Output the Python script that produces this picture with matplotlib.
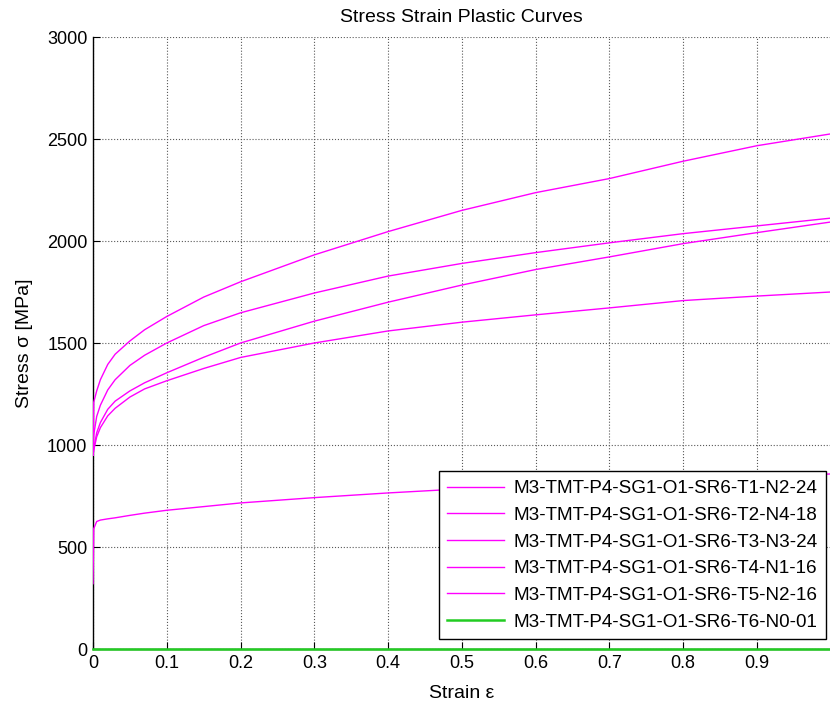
import matplotlib
matplotlib.use("Agg")
import matplotlib.pyplot as plt

plt.rcParams['font.family'] = ['Liberation Sans', 'DejaVu Sans']

strain = [0.0, 0.001, 0.005, 0.01, 0.02, 0.03, 0.05, 0.07, 0.1, 0.15, 0.2, 0.3, 0.4, 0.5, 0.6, 0.7, 0.8, 0.9, 1.0]
stress_t1 = [950, 1210, 1265, 1320, 1395, 1445, 1510, 1565, 1630, 1725, 1800, 1932, 2046, 2150, 2237, 2306, 2391, 2467, 2525]
stress_t2 = [950, 1050, 1140, 1195, 1270, 1320, 1390, 1440, 1500, 1585, 1648, 1745, 1828, 1890, 1943, 1991, 2036, 2074, 2112]
stress_t3 = [950, 980, 1060, 1110, 1175, 1215, 1265, 1305, 1354, 1430, 1500, 1607, 1700, 1784, 1860, 1922, 1987, 2041, 2093]
stress_t4 = [950, 975, 1040, 1085, 1143, 1180, 1235, 1275, 1315, 1375, 1429, 1500, 1559, 1602, 1638, 1672, 1708, 1730, 1750]
stress_t5 = [320, 590, 625, 632, 638, 643, 655, 666, 680, 698, 716, 742, 765, 785, 803, 818, 832, 845, 858]
stress_t6 = [0] * len(strain)

labels = [
    "M3-TMT-P4-SG1-O1-SR6-T1-N2-24",
    "M3-TMT-P4-SG1-O1-SR6-T2-N4-18",
    "M3-TMT-P4-SG1-O1-SR6-T3-N3-24",
    "M3-TMT-P4-SG1-O1-SR6-T4-N1-16",
    "M3-TMT-P4-SG1-O1-SR6-T5-N2-16",
    "M3-TMT-P4-SG1-O1-SR6-T6-N0-01",
]
xticks = [0, 0.1, 0.2, 0.3, 0.4, 0.5, 0.6, 0.7, 0.8, 0.9]
yticks = [0, 500, 1000, 1500, 2000, 2500, 3000]

fig = plt.figure(figsize=(8.30, 7.02), dpi=100)
ax = fig.add_axes([93/830, 53/702, 737.6/830, 612/702])

series = [stress_t1, stress_t2, stress_t3, stress_t4, stress_t5]
for s, lab in zip(series, labels[:5]):
    ax.plot(strain, s, color='#ff00ff', lw=1.0, label=lab, zorder=3)
ax.plot(strain, stress_t6, color='#22cc22', lw=1.8, label=labels[5], zorder=4, clip_on=False)

ax.set_xlim(0, 1.0)
ax.set_ylim(0, 3000)
ax.set_xticks(xticks)
ax.set_xticklabels([f"{t:g}" for t in xticks])
ax.set_yticks(yticks)
ax.grid(True, color='0.35', linestyle=':', lw=0.8)
ax.set_axisbelow(True)
for sp in ['top', 'right']:
    ax.spines[sp].set_visible(False)
ax.spines['left'].set_linewidth(1.0)
ax.spines['bottom'].set_linewidth(1.0)
ax.tick_params(direction='in', length=5, labelsize=13, pad=4)

ax.set_title("Stress Strain Plastic Curves", fontsize=14, pad=11)
ax.set_xlabel("Strain ε", fontsize=14, labelpad=10)
ax.set_ylabel("Stress σ [MPa]", fontsize=14, labelpad=10)

leg = ax.legend(loc='lower right', bbox_to_anchor=(0.9937, 0.0163), fontsize=13.6,
                frameon=True, fancybox=False, edgecolor='black', framealpha=1,
                handlelength=3.0, handletextpad=0.5, labelspacing=0.5,
                borderpad=0.45, borderaxespad=0.0)
leg.get_frame().set_linewidth(1.0)
leg.set_zorder(5)

fig.savefig("out.png", dpi=100)
